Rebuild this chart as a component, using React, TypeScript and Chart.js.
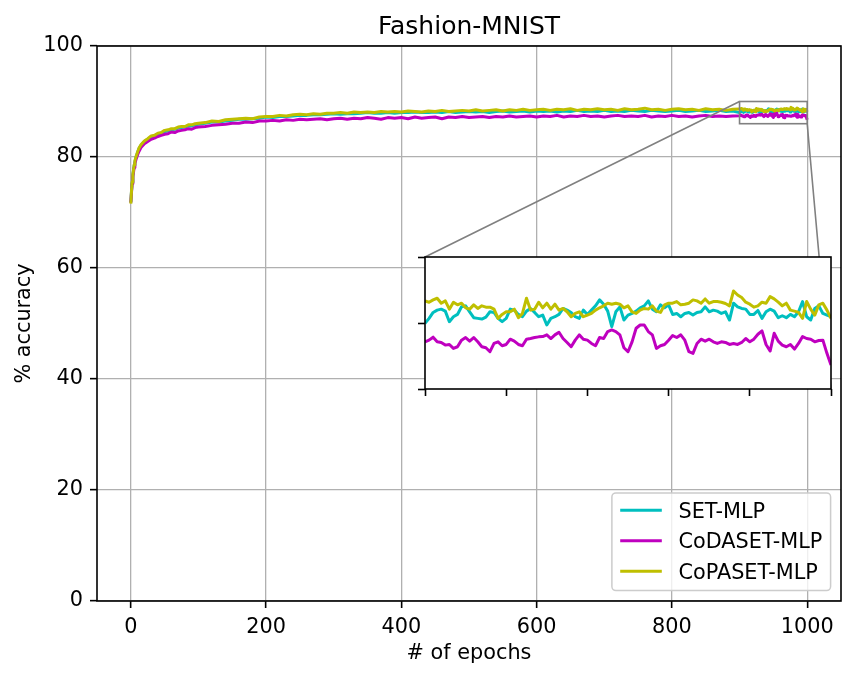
import React, { useEffect, useRef } from 'react';
import { Chart, registerables } from 'chart.js';

Chart.register(...registerables);

const FONT_FAMILY = "'DejaVu Sans', 'Liberation Sans', sans-serif";

const TITLE = 'Fashion-MNIST';
const X_LABEL = '# of epochs';
const Y_LABEL = '% accuracy';
const SERIES_LABELS = ['SET-MLP', 'CoDASET-MLP', 'CoPASET-MLP'];
const SERIES_COLORS = ['#00bfbf', '#bf00bf', '#bfbf00'];

const X_TICKS = [0, 200, 400, 600, 800, 1000];
const Y_TICKS = [0, 20, 40, 60, 80, 100];
const INSET_X_TICKS = [900, 920, 940, 960, 980, 1000];
const INSET_Y_TICKS = [86, 88, 90];

// sampled epochs for the main view (0..890)
const EARLY_EPOCHS = [0, 1, 2, 3, 4, 5, 6, 8, 10, 12, 15, 20, 25, 30, 35, 40, 45, 50, 55, 60, 65, 70, 75, 80, 85, 90, 95, 100];
const LATE_EPOCHS = Array.from({ length: 79 }, (_, i) => 110 + 10 * i);
const MAIN_EPOCHS = [...EARLY_EPOCHS, ...LATE_EPOCHS];
// every epoch of the zoomed window 900..1000
const INSET_EPOCHS = Array.from({ length: 101 }, (_, i) => 900 + i);

const SET_MAIN = [
  71.8, 73.8, 75.4, 76.7, 77.6, 78.5, 79.1, 80.1, 80.8, 81.5, 82.1, 82.8, 83.2, 83.6, 83.8, 84.1, 84.3, 84.6, 84.7, 84.9, 85.0, 85.2, 85.3, 85.4, 85.6, 85.6, 85.8, 85.9,
  86.1, 86.3, 86.3, 86.5, 86.6, 86.8, 86.8, 86.9, 87.0, 87.2,
  87.1, 87.3, 87.3, 87.4, 87.5, 87.5, 87.6, 87.6, 87.7, 87.8,
  87.7, 87.8, 87.8, 87.9, 88.0, 87.9, 87.9, 88.0, 87.9, 88.0,
  88.0, 88.1, 88.0, 88.0, 88.1, 88.0, 88.2, 88.0, 88.1, 88.2,
  88.1, 88.2, 88.0, 88.2, 88.3, 88.1, 88.2, 88.3, 88.1, 88.3,
  88.2, 88.3, 88.1, 88.3, 88.2, 88.4, 88.2, 88.3, 88.2, 88.4,
  88.2, 88.3, 88.2, 88.4, 88.3, 88.2, 88.4, 88.3, 88.2, 88.3,
  88.4, 88.2, 88.3, 88.4, 88.2, 88.3, 88.4, 88.2, 88.3,
];
const CODASET_MAIN = [
  71.8, 73.6, 75.2, 76.4, 77.3, 78.1, 78.8, 79.7, 80.4, 81.0, 81.7, 82.4, 82.8, 83.2, 83.4, 83.7, 83.9, 84.1, 84.2, 84.5, 84.4, 84.7, 84.8, 84.9, 85.1, 85.0, 85.3, 85.4,
  85.5, 85.7, 85.8, 85.9, 86.1, 86.1, 86.3, 86.2, 86.5, 86.5,
  86.6, 86.5, 86.7, 86.6, 86.8, 86.7, 86.8, 86.9, 86.7, 86.9,
  87.0, 86.8, 87.0, 86.9, 87.1, 87.0, 86.8, 87.1, 87.0, 87.1,
  86.9, 87.2, 87.0, 87.1, 87.2, 86.9, 87.2, 87.1, 87.3, 87.1,
  87.2, 87.3, 87.1, 87.3, 87.2, 87.4, 87.2, 87.3, 87.4, 87.2,
  87.4, 87.3, 87.5, 87.2, 87.4, 87.3, 87.5, 87.3, 87.4, 87.2,
  87.4, 87.5, 87.3, 87.4, 87.3, 87.5, 87.2, 87.4, 87.3, 87.5,
  87.3, 87.4, 87.2, 87.4, 87.5, 87.3, 87.4, 87.3, 87.4,
];
const COPASET_MAIN = [
  71.6, 73.9, 75.5, 76.8, 77.7, 78.6, 79.3, 80.2, 80.9, 81.6, 82.2, 82.9, 83.3, 83.8, 83.9, 84.3, 84.4, 84.8, 84.9, 85.1, 85.1, 85.4, 85.5, 85.5, 85.8, 85.8, 86.0, 86.1,
  86.2, 86.5, 86.4, 86.7, 86.8, 86.9, 87.0, 86.9, 87.2, 87.3,
  87.3, 87.5, 87.4, 87.6, 87.7, 87.6, 87.8, 87.7, 87.9, 87.9,
  88.0, 87.9, 88.1, 88.0, 88.1, 88.0, 88.2, 88.1, 88.2, 88.1,
  88.3, 88.2, 88.1, 88.3, 88.2, 88.4, 88.2, 88.3, 88.4, 88.3,
  88.5, 88.3, 88.4, 88.5, 88.3, 88.5, 88.4, 88.6, 88.4, 88.5,
  88.6, 88.4, 88.6, 88.5, 88.7, 88.4, 88.6, 88.5, 88.7, 88.5,
  88.6, 88.4, 88.7, 88.5, 88.6, 88.8, 88.5, 88.6, 88.4, 88.6,
  88.7, 88.5, 88.6, 88.4, 88.7, 88.5, 88.6, 88.4, 88.6,
];

const SET_INSET = [
  87.99, 88.14, 88.32, 88.39, 88.42, 88.36, 88.04, 88.19, 88.26, 88.49, 88.52, 88.34, 88.16, 88.14, 88.12, 88.18, 88.34, 88.32, 88.14, 88.04, 88.14,
  88.42, 88.39, 88.26, 88.19, 88.36, 88.44, 88.32, 88.19, 88.24, 87.94, 88.14, 88.19, 88.26, 88.44, 88.39, 88.32, 88.19, 88.14, 88.39, 88.26,
  88.39, 88.52, 88.70, 88.57, 88.36, 87.89, 88.34, 88.49, 88.09, 88.24, 88.29, 88.36, 88.46, 88.52, 88.67, 88.42, 88.34, 88.55, 88.46, 88.55,
  88.26, 88.29, 88.19, 88.29, 88.32, 88.24, 88.32, 88.34, 88.49, 88.34, 88.39, 88.36, 88.29, 88.34, 88.09, 88.60, 88.49, 88.44, 88.42, 88.26,
  88.26, 88.38, 88.14, 88.34, 88.42, 88.36, 88.16, 88.22, 88.16, 88.26, 88.19, 88.34, 88.65, 88.19, 88.09, 88.44, 88.52, 88.29, 88.24, 88.19,
];
const CODASET_INSET = [
  87.43, 87.48, 87.57, 87.43, 87.41, 87.33, 87.35, 87.23, 87.28, 87.48, 87.56, 87.45, 87.56, 87.43, 87.28, 87.25, 87.13, 87.38, 87.43, 87.31, 87.35,
  87.51, 87.45, 87.35, 87.31, 87.51, 87.53, 87.56, 87.58, 87.59, 87.64, 87.53, 87.64, 87.72, 87.53, 87.41, 87.28, 87.48, 87.64, 87.51, 87.48,
  87.38, 87.31, 87.56, 87.53, 87.74, 87.79, 87.74, 87.64, 87.25, 87.13, 87.43, 87.84, 87.94, 87.94, 87.74, 87.64, 87.23, 87.31, 87.35, 87.48,
  87.62, 87.56, 87.64, 87.48, 87.13, 87.08, 87.38, 87.51, 87.45, 87.51, 87.43, 87.38, 87.43, 87.41, 87.35, 87.38, 87.35, 87.41, 87.53, 87.43,
  87.51, 87.66, 87.76, 87.35, 87.15, 87.69, 87.45, 87.33, 87.28, 87.35, 87.21, 87.38, 87.59, 87.53, 87.51, 87.43, 87.47, 87.48, 87.08, 86.73,
];
const COPASET_INSET = [
  88.67, 88.63, 88.70, 88.75, 88.60, 88.67, 88.42, 88.63, 88.55, 88.60, 88.46, 88.42, 88.55, 88.44, 88.52, 88.48, 88.48, 88.42, 88.14, 88.26, 88.34,
  88.34, 88.42, 88.16, 88.29, 88.75, 88.39, 88.42, 88.63, 88.46, 88.60, 88.42, 88.57, 88.39, 88.44, 88.34, 88.19, 88.29, 88.34, 88.19, 88.24,
  88.29, 88.39, 88.46, 88.52, 88.60, 88.57, 88.60, 88.57, 88.46, 88.52, 88.34, 88.29, 88.39, 88.44, 88.42, 88.52, 88.36, 88.32, 88.55, 88.60,
  88.60, 88.65, 88.55, 88.57, 88.60, 88.70, 88.67, 88.60, 88.73, 88.60, 88.65, 88.65, 88.63, 88.59, 88.52, 88.97, 88.85, 88.77, 88.63, 88.57,
  88.48, 88.52, 88.63, 88.60, 88.80, 88.73, 88.63, 88.52, 88.60, 88.39, 88.36, 88.32, 88.14, 88.65, 88.42, 88.24, 88.55, 88.60, 88.39, 88.14,
];

const MAIN_SERIES = [SET_MAIN, CODASET_MAIN, COPASET_MAIN];
const INSET_SERIES = [SET_INSET, CODASET_INSET, COPASET_INSET];

const X_RANGE = [-50, 1050];
const Y_RANGE = [0, 100];
const INSET_X_RANGE = [900, 1000];
const INSET_Y_RANGE = [86, 90];

const W = 865;
const H = 680;
const INSET_BOX = { left: 410, top: 247, width: 431, height: 157 };
const FS = 20.8;
const TITLE_FS = 25;
const SPINE = 1.6;

function toPoints(xs: number[], ys: number[]) {
  return xs.map((x, i) => ({ x, y: ys[i] }));
}

function lineDataset(i: number, data: { x: number; y: number }[]) {
  return {
    label: SERIES_LABELS[i],
    data,
    borderColor: SERIES_COLORS[i],
    backgroundColor: SERIES_COLORS[i],
    borderWidth: 3,
    pointRadius: 0,
    pointHoverRadius: 0,
    fill: false,
    tension: 0,
    order: 2 - i,
    borderJoinStyle: 'round' as const,
    borderCapStyle: 'butt' as const,
  };
}

export default function App() {
  const mainRef = useRef<HTMLCanvasElement>(null);
  const insetRef = useRef<HTMLCanvasElement>(null);

  useEffect(() => {
    const font = { family: FONT_FAMILY, size: FS, weight: 'normal' as const, lineHeight: 1.2 };
    const plain = (v: any) => String(v);

    const insetDecor = {
      id: 'insetDecor',
      beforeDraw(chart: any) {
        const { ctx, chartArea: a } = chart;
        ctx.save();
        ctx.fillStyle = '#ffffff';
        ctx.fillRect(a.left, a.top, a.right - a.left, a.bottom - a.top);
        ctx.restore();
      },
      afterDatasetsDraw(chart: any) {
        const { ctx, chartArea: a } = chart;
        ctx.save();
        ctx.strokeStyle = '#000';
        ctx.lineWidth = SPINE;
        ctx.strokeRect(a.left, a.top, a.right - a.left, a.bottom - a.top);
        ctx.restore();
      },
    };

    const inset = new Chart(insetRef.current!, {
      type: 'line',
      data: {
        datasets: [0, 1, 2].map((i) => lineDataset(i, toPoints(INSET_EPOCHS, INSET_SERIES[i]))) as any,
      },
      options: {
        animation: false,
        responsive: false,
        events: [],
        layout: { padding: { left: 8, top: 10, right: 10, bottom: 8 } },
        plugins: { legend: { display: false }, tooltip: { enabled: false }, title: { display: false } },
        scales: {
          x: {
            type: 'linear',
            min: INSET_X_RANGE[0],
            max: INSET_X_RANGE[1],
            afterBuildTicks: (s: any) => { s.ticks = INSET_X_TICKS.map((v) => ({ value: v })); },
            afterFit: (s: any) => { s.height = 7; },
            grid: { display: true, drawOnChartArea: false, drawTicks: true, tickLength: 7, tickColor: '#000', tickWidth: SPINE },
            border: { display: false },
            ticks: { display: false },
          },
          y: {
            type: 'linear',
            min: INSET_Y_RANGE[0],
            max: INSET_Y_RANGE[1],
            afterBuildTicks: (s: any) => { s.ticks = INSET_Y_TICKS.map((v) => ({ value: v })); },
            afterFit: (s: any) => { s.width = 7; },
            grid: { display: true, drawOnChartArea: false, drawTicks: true, tickLength: 7, tickColor: '#000', tickWidth: SPINE },
            border: { display: false },
            ticks: { display: false },
          },
        },
      } as any,
      plugins: [insetDecor],
    });

    const mainDecor = {
      id: 'mainDecor',
      afterDatasetsDraw(chart: any) {
        const { ctx, chartArea: a, scales } = chart;
        const x = scales.x;
        const y = scales.y;
        ctx.save();
        ctx.strokeStyle = '#000';
        ctx.lineWidth = SPINE;
        ctx.strokeRect(a.left, a.top, a.right - a.left, a.bottom - a.top);

        const rx0 = x.getPixelForValue(INSET_X_RANGE[0]);
        const rx1 = x.getPixelForValue(INSET_X_RANGE[1]);
        const ry0 = y.getPixelForValue(INSET_Y_RANGE[1]);
        const ry1 = y.getPixelForValue(INSET_Y_RANGE[0]);
        ctx.strokeStyle = '#808080';
        ctx.lineWidth = 1.6;
        ctx.strokeRect(rx0, ry0, rx1 - rx0, ry1 - ry0);
        const ia = inset.chartArea;
        ctx.beginPath();
        ctx.moveTo(rx0, ry0);
        ctx.lineTo(INSET_BOX.left + ia.left, INSET_BOX.top + ia.top);
        ctx.moveTo(rx1, ry1);
        ctx.lineTo(INSET_BOX.left + ia.right, INSET_BOX.top + ia.bottom);
        ctx.stroke();
        ctx.restore();
      },
      afterDraw(chart: any) {
        const { ctx, chartArea: a } = chart;
        const ds = chart.data.datasets;
        ctx.save();
        // title centred over the plot area
        ctx.font = `${TITLE_FS}px ${FONT_FAMILY}`;
        ctx.fillStyle = '#000';
        ctx.textAlign = 'center';
        ctx.textBaseline = 'alphabetic';
        ctx.fillText(TITLE, (a.left + a.right) / 2, a.top - 12.5);

        // legend
        ctx.font = `${FS}px ${FONT_FAMILY}`;
        const maxW = Math.max(...ds.map((d: any) => ctx.measureText(d.label).width));
        const pad = 0.4 * FS;
        const handleLen = 2 * FS;
        const textPad = 0.8 * FS;
        const rowH = 0.966 * FS;
        const spacing = 0.5 * FS;
        const w = pad + handleLen + textPad + maxW + pad;
        const h = 2 * pad + ds.length * rowH + (ds.length - 1) * spacing;
        const right = a.right - 0.5 * FS;
        const bottom = a.bottom - 0.5 * FS;
        const left = right - w;
        const top = bottom - h;
        ctx.beginPath();
        if ((ctx as any).roundRect) (ctx as any).roundRect(left, top, w, h, 4);
        else ctx.rect(left, top, w, h);
        ctx.fillStyle = 'rgba(255,255,255,0.8)';
        ctx.fill();
        ctx.strokeStyle = '#cccccc';
        ctx.lineWidth = 1.5;
        ctx.stroke();
        ds.forEach((d: any, i: number) => {
          const cy = top + pad + rowH / 2 - 1 + i * (rowH + spacing);
          ctx.strokeStyle = d.borderColor;
          ctx.lineWidth = 3;
          ctx.beginPath();
          ctx.moveTo(left + pad, cy);
          ctx.lineTo(left + pad + handleLen, cy);
          ctx.stroke();
          ctx.fillStyle = '#000';
          ctx.textBaseline = 'alphabetic';
          ctx.textAlign = 'left';
          ctx.fillText(d.label, left + pad + handleLen + textPad, cy + 0.365 * FS);
        });
        ctx.restore();
      },
    };

    const main = new Chart(mainRef.current!, {
      type: 'line',
      data: {
        datasets: [0, 1, 2].map((i) =>
          lineDataset(i, toPoints(MAIN_EPOCHS, MAIN_SERIES[i]).concat(toPoints(INSET_EPOCHS, INSET_SERIES[i])))
        ) as any,
      },
      options: {
        animation: false,
        responsive: false,
        events: [],
        layout: { padding: { left: 0, right: 24, top: 46, bottom: 0 } },
        plugins: {
          legend: { display: false },
          tooltip: { enabled: false },
          title: { display: false },
        },
        scales: {
          x: {
            type: 'linear',
            min: X_RANGE[0],
            max: X_RANGE[1],
            afterBuildTicks: (s: any) => { s.ticks = X_TICKS.map((v) => ({ value: v })); },
            afterFit: (s: any) => { s.height = 79; },
            grid: { color: '#b0b0b0', lineWidth: 1.3, tickColor: '#000', tickLength: 7, tickWidth: SPINE },
            border: { display: false },
            ticks: { color: '#000', font, padding: 7, maxRotation: 0, autoSkip: false, callback: plain },
            title: { display: true, text: X_LABEL, color: '#000', font, padding: { top: 0, bottom: 13.5 } },
          },
          y: {
            type: 'linear',
            min: Y_RANGE[0],
            max: Y_RANGE[1],
            afterBuildTicks: (s: any) => { s.ticks = Y_TICKS.map((v) => ({ value: v })); },
            afterFit: (s: any) => { s.width = 97; },
            grid: { color: '#b0b0b0', lineWidth: 1.3, tickColor: '#000', tickLength: 7, tickWidth: SPINE },
            border: { display: false },
            ticks: { color: '#000', font, padding: 7, autoSkip: false, callback: plain },
            title: { display: true, text: Y_LABEL, color: '#000', font, padding: { top: 12.5, bottom: 0 } },
          },
        },
      } as any,
      plugins: [mainDecor],
    });

    return () => {
      main.destroy();
      inset.destroy();
    };
  }, []);

  return (
    <div style={{ position: 'fixed', left: 0, top: 0, width: W, height: H, background: '#fff' }}>
      <canvas
        ref={mainRef}
        width={W}
        height={H}
        style={{ position: 'absolute', left: 0, top: 0, width: W, height: H, display: 'block' }}
      />
      <canvas
        ref={insetRef}
        width={INSET_BOX.width}
        height={INSET_BOX.height}
        style={{
          position: 'absolute',
          left: INSET_BOX.left,
          top: INSET_BOX.top,
          width: INSET_BOX.width,
          height: INSET_BOX.height,
          display: 'block',
        }}
      />
    </div>
  );
}
